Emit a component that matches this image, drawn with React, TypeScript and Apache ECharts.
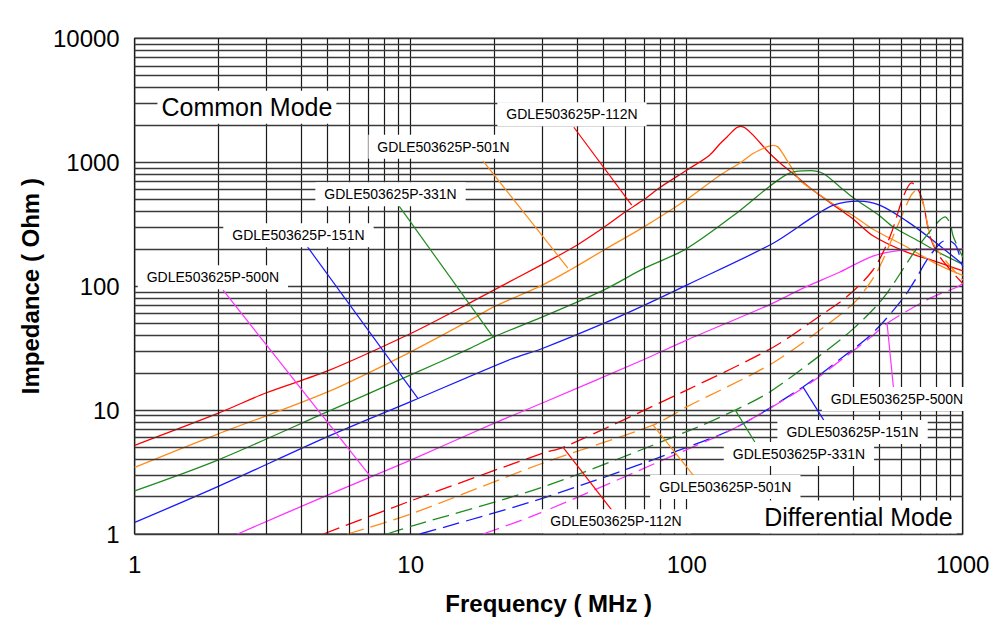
import React, { useEffect, useRef } from "react";
import * as echarts from "echarts";

type Pt = [number, number];

// axis ticks
const xTickValues = [1, 10, 100, 1000];
const yTickValues = [1, 10, 100, 1000, 10000];
const minorSteps = [2, 3, 4, 5, 6, 7, 8, 9];
const xDecades = [1, 10, 100];
const yDecades = [1, 10, 100, 1000];

const partNames = [
  "GDLE503625P-112N",
  "GDLE503625P-501N",
  "GDLE503625P-331N",
  "GDLE503625P-151N",
  "GDLE503625P-500N",
];
const partColors = ["#ff0000", "#ff8c1a", "#1f8c1f", "#1a1aff", "#ff33ff"];

// Common mode impedance  [MHz, Ohm]
const cm112N: Pt[] = [
  [1, 5.2], [2, 9.4], [3, 13.8], [5, 20.7], [10, 41.5], [15, 66], [20, 93], [30, 150],
  [40, 214], [50, 297], [60, 398], [70, 500], [80, 625], [100, 862], [121, 1140],
  [132, 1410], [140, 1600], [151, 1890], [157, 1950], [163, 1890], [174, 1655],
  [200, 1175], [218, 986], [250, 766], [287, 594], [359, 415], [400, 350], [473, 255],
  [620, 190], [800, 158], [1000, 133],
];
const cm501N: Pt[] = [
  [1, 3.45], [2, 6.4], [5, 14], [10, 29.5], [16.4, 53], [20, 68], [30, 102], [37.8, 135],
  [50, 195], [70, 301], [100, 500], [132, 785], [156, 986], [174, 1175], [195, 1328],
  [205, 1370], [214, 1330], [223, 1175], [243, 862], [257, 716], [287, 594], [359, 425],
  [400, 372], [473, 288], [620, 210], [800, 152], [1000, 122],
];
const cm331N: Pt[] = [
  [1, 2.23], [2, 3.95], [5, 9.7], [10, 19.2], [16.4, 31.5], [20, 39], [30, 56.5], [50, 93],
  [70, 139], [100, 201], [152, 390], [200, 640], [237, 820], [280, 855], [312, 811],
  [359, 632], [400, 520], [500, 370], [560, 300], [700, 228], [800, 192], [1000, 150],
];
const cm151N: Pt[] = [
  [1, 1.24], [2, 2.41], [5, 6.1], [10, 11.7], [22.9, 25.6], [30, 31.4], [50, 50], [70, 70],
  [100, 102], [205, 221], [287, 362], [340, 450], [419, 486], [500, 450], [627, 335],
  [779, 235], [1000, 150],
];
const cm500N: Pt[] = [
  [2.36, 1], [5, 2.06], [10, 3.95], [20, 7.8], [30, 11.4], [70, 25.6], [100, 36.7],
  [200, 71], [263, 96], [359, 130], [473, 175], [609, 195], [800, 200], [1000, 200],
];

// Differential mode impedance  [MHz, Ohm]
const dm112N: Pt[] = [
  [4.83, 1], [10, 1.85], [30.2, 4.5], [35.7, 5.0], [100, 14.5], [205, 32], [312, 60],
  [380, 82], [473, 135], [545, 250], [609, 525], [653, 681], [690, 600], [720, 464],
  [762, 250], [827, 172], [1000, 105],
];
const dm501N: Pt[] = [
  [5.9, 1], [10, 1.45], [30.2, 3.74], [75.5, 7.57], [100, 10.6], [205, 24], [339, 53],
  [413, 77], [461, 106], [500, 143], [593, 341], [650, 540], [681, 594], [700, 540],
  [720, 464], [782, 221], [1000, 112],
];
const dm331N: Pt[] = [
  [8.2, 1], [10, 1.15], [30.2, 2.4], [100, 6.7], [150, 10], [200, 14], [300, 27],
  [400, 45], [515, 80], [681, 201], [806, 322], [863, 362], [900, 320], [925, 250],
  [1000, 172],
];
const dm151N: Pt[] = [
  [10.8, 1], [30.2, 1.95], [100, 5.0], [152, 7.3], [263, 15.3], [368, 26.8], [473, 42],
  [609, 80], [682, 118], [741, 162], [827, 221], [875, 235], [920, 225], [951, 207],
  [1000, 143],
];
const dm500N: Pt[] = [
  [18.3, 1], [29.5, 1.48], [100, 4.8], [150, 7.2], [263, 15], [368, 26], [473, 40],
  [531, 50], [762, 80], [952, 98], [1000, 105],
];

const cmCurves = [cm112N, cm501N, cm331N, cm151N, cm500N];
const dmCurves = [dm112N, dm501N, dm331N, dm151N, dm500N];

// annotations: label centre, leader start, leader end (data coordinates)
type Note = { part: number; at: Pt; from: Pt; to: Pt };
const cmNotes: Note[] = [
  { part: 0, at: [38.4, 2438], from: [39, 1915], to: [63.2, 450] },
  { part: 1, at: [13.15, 1334], from: [18.3, 1019], to: [37.1, 140] },
  { part: 2, at: [8.45, 552], from: [8.92, 467], to: [19.9, 38.8] },
  { part: 3, at: [3.92, 258], from: [4.21, 210], to: [10.6, 12.5] },
  { part: 4, at: [1.92, 118], from: [2.09, 93], to: [7.12, 2.94] },
];
const dmNotes: Note[] = [
  { part: 4, at: [578, 12.3], from: [561, 15.3], to: [532, 50.3] },
  { part: 3, at: [399, 6.65], from: [317, 8.0], to: [264, 15.3] },
  { part: 2, at: [255, 4.42], from: [181, 5.03], to: [150, 10] },
  { part: 1, at: [138, 2.39], from: [107, 2.88], to: [75.5, 7.57] },
  { part: 0, at: [55.4, 1.27], from: [54.5, 1.48], to: [35.6, 5.03] },
];
const modeTitles: { text: string; at: Pt }[] = [
  { text: "Common Mode", at: [2.55, 2778] },
  { text: "Differential Mode", at: [419, 1.37] },
];

const FONT = '"Liberation Sans", Arial, sans-serif';

export default function App() {
  const ref = useRef<HTMLDivElement>(null);
  useEffect(() => {
    const chart = echarts.init(ref.current!, null, { renderer: "svg" });
    const xMinor: number[] = [];
    xDecades.forEach((d) => minorSteps.forEach((m) => xMinor.push(d * m)));
    const yMinor: number[] = [];
    yDecades.forEach((d) => minorSteps.forEach((m) => yMinor.push(d * m)));

    const series: any[] = [
      {
        type: "line",
        name: "grid",
        data: [[1, 1]],
        symbol: "none",
        lineStyle: { width: 0 },
        silent: true,
        z: 1,
        markLine: {
          silent: true,
          symbol: ["none", "none"],
          label: { show: false },
          emphasis: { disabled: true },
          animation: false,
          data: [
            ...xMinor.map((v) => ({ xAxis: v, lineStyle: { color: "#1a1a1a", width: 1.2, type: "solid" } })),
            ...yMinor.map((v) => ({ yAxis: v, lineStyle: { color: "#3a3a3a", width: 1.4, type: "solid" } })),
          ],
        },
      },
    ];
    cmCurves.forEach((d, i) =>
      series.push({
        type: "line",
        name: partNames[i] + " CM",
        data: d,
        symbol: "none",
        smooth: 0.3,
        z: 3,
        lineStyle: { color: partColors[i], width: 1.3 },
      })
    );
    dmCurves.forEach((d, i) =>
      series.push({
        type: "line",
        name: partNames[i] + " DM",
        data: d,
        symbol: "none",
        smooth: 0.3,
        z: 3,
        lineStyle: { color: partColors[i], width: 1.3, type: [17, 7] },
      })
    );

    chart.setOption({
      animation: false,
      backgroundColor: "#ffffff",
      grid: {
        left: 134.7,
        right: 39.3,
        top: 38.3,
        bottom: 95,
        show: true,
        borderColor: "#555",
        borderWidth: 1.5,
        backgroundColor: "transparent",
      },
      xAxis: {
        type: "log",
        logBase: 10,
        min: xTickValues[0],
        max: xTickValues[xTickValues.length - 1],
        name: "Frequency ( MHz )",
        nameLocation: "middle",
        nameGap: 57,
        nameTextStyle: { fontSize: 24, fontWeight: "bold", color: "#000", fontFamily: FONT },
        axisLine: { show: false },
        axisTick: { show: false },
        axisLabel: {
          fontSize: 24,
          color: "#000",
          fontFamily: FONT,
          margin: 18,
          formatter: (v: number) => String(Math.round(v)),
        },
        splitLine: { show: true, lineStyle: { color: "#1a1a1a", width: 1.2 } },
      },
      yAxis: {
        type: "log",
        logBase: 10,
        min: yTickValues[0],
        max: yTickValues[yTickValues.length - 1],
        name: "Impedance ( Ohm )",
        nameLocation: "middle",
        nameGap: 88,
        nameRotate: 90,
        nameTextStyle: { fontSize: 24, fontWeight: "bold", color: "#000", fontFamily: FONT },
        axisLine: { show: false },
        axisTick: { show: false },
        axisLabel: {
          fontSize: 24,
          color: "#000",
          fontFamily: FONT,
          margin: 15,
          formatter: (v: number) => String(Math.round(v)),
        },
        splitLine: { show: true, lineStyle: { color: "#3a3a3a", width: 1.4 } },
      },
      series,
    });

    const px = (p: Pt) => chart.convertToPixel({ gridIndex: 0 }, p) as number[];
    const graphics: any[] = [];
    [...cmNotes, ...dmNotes].forEach((n) => {
      const a = px(n.from);
      const b = px(n.to);
      graphics.push({
        type: "line",
        z: 20,
        silent: true,
        shape: { x1: a[0], y1: a[1], x2: b[0], y2: b[1] },
        style: { stroke: partColors[n.part], lineWidth: 1.2 },
      });
    });
    [...cmNotes, ...dmNotes].forEach((n) => {
      const c = px(n.at);
      graphics.push({
        type: "text",
        z: 30,
        silent: true,
        x: c[0],
        y: c[1],
        style: {
          text: partNames[n.part],
          fill: "#000",
          fontSize: 14,
          fontFamily: FONT,
          align: "center",
          verticalAlign: "middle",
          backgroundColor: "#fff",
          padding: [5, 9],
        },
      });
    });
    modeTitles.forEach((t) => {
      const c = px(t.at);
      graphics.push({
        type: "text",
        z: 30,
        silent: true,
        x: c[0],
        y: c[1],
        style: {
          text: t.text,
          fill: "#000",
          fontSize: 25,
          fontFamily: FONT,
          align: "center",
          verticalAlign: "middle",
          backgroundColor: "#fff",
          padding: [4, 4],
        },
      });
    });
    chart.setOption({ graphic: graphics });

    return () => chart.dispose();
  }, []);
  return (
    <div
      ref={ref}
      style={{ position: "absolute", left: 0, top: 0, width: 1002, height: 629 }}
    />
  );
}
